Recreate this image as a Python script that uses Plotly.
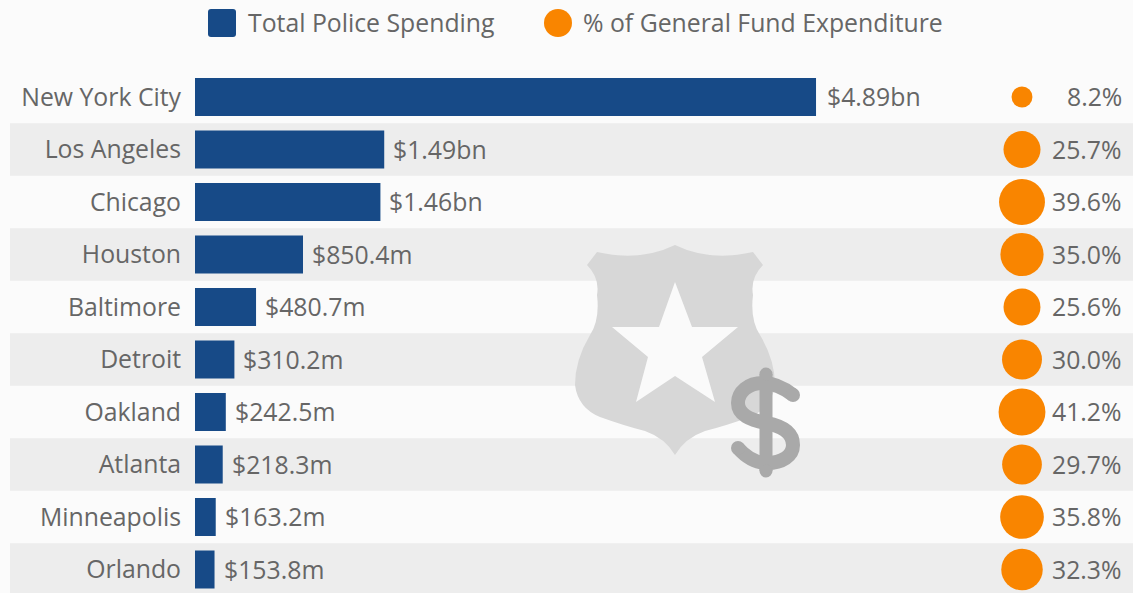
import plotly.graph_objects as go

cities = ["New York City", "Los Angeles", "Chicago", "Houston", "Baltimore",
          "Detroit", "Oakland", "Atlanta", "Minneapolis", "Orlando"]
spending_bn = [4.89, 1.49, 1.46, 0.8504, 0.4807, 0.3102, 0.2425, 0.2183, 0.1632, 0.1538]
spending_labels = ["$4.89bn", "$1.49bn", "$1.46bn", "$850.4m", "$480.7m",
                   "$310.2m", "$242.5m", "$218.3m", "$163.2m", "$153.8m"]
pct_of_fund = [8.2, 25.7, 39.6, 35.0, 25.6, 30.0, 41.2, 29.7, 35.8, 32.3]
pct_labels = ["8.2%", "25.7%", "39.6%", "35.0%", "25.6%", "30.0%", "41.2%", "29.7%", "35.8%", "32.3%"]

W, H = 1133, 593
BLUE, ORANGE, TXT, BG, BAND = "#174a87", "#f98500", "#666666", "#fbfbfb", "#ededed"
FONT = "Open Sans"
FS = 24.8

fig = go.Figure()

fig.add_trace(go.Bar(
    y=cities, x=spending_bn, orientation="h", xaxis="x", yaxis="y", width=38 / 52.5,
    marker=dict(color=BLUE, line=dict(width=0)), cliponaxis=False, showlegend=False,
))
fig.add_trace(go.Scatter(
    y=cities, x=[0] * len(cities), mode="markers", xaxis="x2", yaxis="y",
    cliponaxis=False, showlegend=False,
    marker=dict(color=ORANGE, opacity=1, size=pct_of_fund, sizemode="area", sizeref=2 / 53.3,
                line=dict(width=0)),
))

shapes = []
for i in range(1, len(cities), 2):
    shapes.append(dict(type="rect", xref="x3", yref="y", x0=10, x1=W, y0=i - 0.5, y1=i + 0.5,
                       fillcolor=BAND, line_width=0, layer="below"))


def px_path(path, fill=None, line=None, width=0):
    d = dict(type="path", xref="x3", yref="y3", path=path, layer="below",
             line=dict(width=width, color=line or "rgba(0,0,0,0)"))
    d["fillcolor"] = fill or "rgba(0,0,0,0)"
    return d


shield = ("M675,245 Q640,262 597,252 L587,265 Q600,278 597,295 Q600,320 590,335 "
          "Q575,360 575,385 Q578,408 600,417 Q625,426 645,431 Q665,438 675,455 "
          "Q685,438 705,431 Q725,426 750,417 Q772,408 775,385 Q775,360 760,335 "
          "Q750,320 753,295 Q750,278 763,265 L753,252 Q710,262 675,245 Z")
star = ("M675,282 L692,327 L738,327 L702,357 L715,402 L675,376 L636,402 L648,357 "
        "L612,327 L659,327 Z")
dollar_s = ("M793,395 C780,385 770,383 763,383 C748,383 738,392 738,403 C738,415 750,420 766,423 "
            "C782,426 793,432 793,445 C793,456 782,463 767,463 C755,463 745,456 738,448")
DOLLAR = "#a9a9a9"
shapes.append(px_path(shield, fill="#d7d7d7"))
shapes.append(px_path(star, fill="#fafafa"))
shapes.append(px_path(dollar_s, line=DOLLAR, width=14))
shapes.append(px_path("M766,374 L766,471", line=DOLLAR, width=13))
for cx, cy, r in [(793, 395, 7), (738, 448, 7), (766, 374, 6.5), (766, 471, 6.5)]:
    shapes.append(dict(type="circle", xref="x3", yref="y3", x0=cx - r, x1=cx + r, y0=cy - r, y1=cy + r,
                       fillcolor=DOLLAR, line_width=0, layer="below"))

# legend swatches
shapes.append(px_path("M211,9 L233,9 Q236,9 236,12 L236,34 Q236,37 233,37 L211,37 Q208,37 208,34 "
                      "L208,12 Q208,9 211,9 Z", fill=BLUE))
shapes.append(dict(type="circle", xref="x3", yref="y3", x0=544, x1=572, y0=9, y1=37,
                   fillcolor=ORANGE, line_width=0, layer="below"))

annotations = [
    dict(text="Total Police Spending", xref="x3", yref="y3", x=246, y=22, xanchor="left", yanchor="middle",
         showarrow=False, font=dict(family=FONT, size=FS, color=TXT)),
    dict(text="% of General Fund Expenditure", xref="x3", yref="y3", x=581, y=22, xanchor="left",
         yanchor="middle", showarrow=False, font=dict(family=FONT, size=FS, color=TXT)),
]
for i, (c, t, v, lab) in enumerate(zip(cities, pct_labels, spending_bn, spending_labels)):
    annotations.append(dict(text=t, xref="x3", yref="y", x=1124, y=c, xanchor="right", yanchor="middle",
                            yshift=1, showarrow=False, font=dict(family=FONT, size=FS, color=TXT)))
    annotations.append(dict(text=lab, xref="x", yref="y", x=v, y=c, xanchor="left", yanchor="middle",
                            xshift=9 if i == 0 else 7, yshift=1, showarrow=False,
                            font=dict(family=FONT, size=FS, color=TXT)))

fig.update_layout(
    width=W, height=H, margin=dict(l=0, r=0, t=0, b=0), autosize=False,
    paper_bgcolor=BG, plot_bgcolor="rgba(0,0,0,0)", showlegend=False, barmode="overlay",
    xaxis=dict(domain=[195 / W, 1], range=[0, (W - 195) / 127], visible=False, fixedrange=True),
    xaxis2=dict(domain=[1002 / W, 1042 / W], range=[-1, 1], visible=False, anchor="y", fixedrange=True),
    xaxis3=dict(domain=[0, 1], range=[0, W], visible=False, anchor="y3", fixedrange=True),
    yaxis=dict(domain=[0, 1], range=[(H - 97) / 52.5, -97 / 52.5], type="category",
               categoryorder="array", categoryarray=cities, anchor="x", showgrid=False, zeroline=False,
               showline=False, ticks="outside", ticklen=8, tickcolor="rgba(0,0,0,0)", fixedrange=True,
               tickfont=dict(family=FONT, size=FS, color=TXT)),
    yaxis3=dict(domain=[0, 1], range=[H, 0], visible=False, anchor="x3", fixedrange=True),
    shapes=shapes, annotations=annotations,
)
fig.write_html("out.html", config=dict(displayModeBar=False),
               post_script="document.body.style.margin='0';document.body.style.overflow='hidden';"
                           "document.documentElement.style.background='#fbfbfb';")
